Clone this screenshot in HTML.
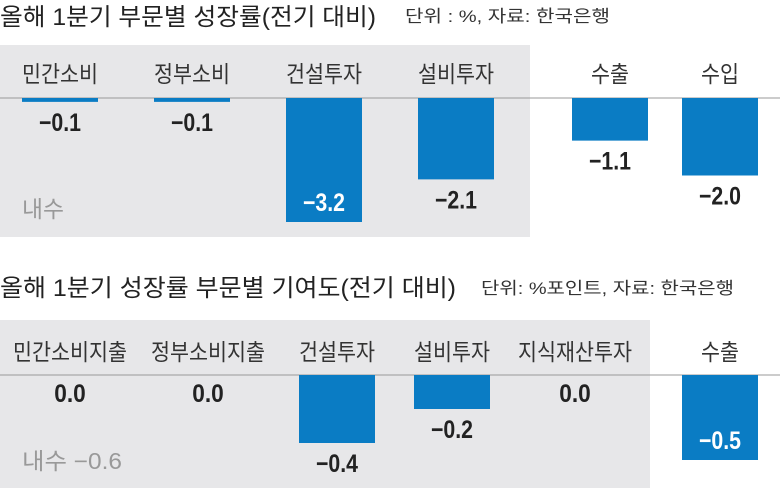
<!DOCTYPE html>
<html><head><meta charset="utf-8"><style>
body{margin:0;background:#fff;}
svg{display:block;font-family:"Liberation Sans","Noto Sans CJK KR",sans-serif;}
</style></head><body>
<svg id="s" width="780" height="488">
<rect x="0" y="45" width="530" height="192" fill="#e7e7e9"/>
<rect x="0" y="320" width="650" height="168" fill="#e7e7e9"/>
<text x="0" y="25" font-size="24" fill="#222" textLength="376" lengthAdjust="spacingAndGlyphs">올해 1분기 부문별 성장률(전기 대비)</text>
<text x="405" y="22" font-size="17" fill="#333" textLength="205" lengthAdjust="spacingAndGlyphs">단위 : %, 자료: 한국은행</text>
<text x="0" y="296" font-size="24" fill="#222" textLength="456" lengthAdjust="spacingAndGlyphs">올해 1분기 성장률 부문별 기여도(전기 대비)</text>
<text x="481" y="294" font-size="17" fill="#333" textLength="253" lengthAdjust="spacingAndGlyphs">단위: %포인트, 자료: 한국은행</text>
<line x1="0" x2="780" y1="98" y2="98" stroke="#999" stroke-width="1"/>
<line x1="0" x2="780" y1="375" y2="375" stroke="#999" stroke-width="1"/>
<text x="22" y="217" font-size="23" fill="#999" textLength="42" lengthAdjust="spacingAndGlyphs">내수</text>
<text x="22" y="469" font-size="23" fill="#999" textLength="100" lengthAdjust="spacingAndGlyphs">내수 −0.6</text>
</svg>
<script>
const topCats=['민간소비','정부소비','건설투자','설비투자','수출','수입'];
const topVals=[-0.1,-0.1,-3.2,-2.1,-1.1,-2.0];
const topLabels=['−0.1','−0.1','−3.2','−2.1','−1.1','−2.0'];
const botCats=['민간소비지출','정부소비지출','건설투자','설비투자','지식재산투자','수출'];
const botVals=[0.0,0.0,-0.4,-0.2,0.0,-0.5];
const botLabels=['0.0','0.0','−0.4','−0.2','0.0','−0.5'];
const NS='http://www.w3.org/2000/svg';
const svg=document.getElementById('s');
function mk(t,a){const e=document.createElementNS(NS,t);for(const k in a)e.setAttribute(k,a[k]);svg.appendChild(e);return e;}
function draw(cats,vals,labels,centers,base,scale,labelY,inside,pre){
  const y=v=>base-v*scale;
  cats.forEach((c,i)=>{
    const t=mk('text',{x:centers[i],y:labelY,'font-size':23,fill:'#333','text-anchor':'middle',textLength:19*c.length,lengthAdjust:'spacingAndGlyphs'});
    
    
    t.textContent=c;
    const v=vals[i];const h=y(v)-base;
    if(h>0.5){
      const r=mk('rect',{x:centers[i]-38,y:base,width:76,height:h,fill:'#0a7cc4'});
      
      
    }
    const isIn=inside[i];
    const vy=isIn?y(v)-11:y(v)+(h>0.5?29:27);
    const l=mk('text',{x:centers[i],y:vy,'font-size':25,'font-weight':'bold',fill:isIn?'#fff':'#222','text-anchor':'middle',textLength:10.5*labels[i].length,lengthAdjust:'spacingAndGlyphs'});
    
    
    l.textContent=labels[i];
  });
}
draw(topCats,topVals,topLabels,[60,192,324,456,610,720],98,38.75,82,[false,false,true,false,false,false],'top');
draw(botCats,botVals,botLabels,[70,208,337,452,575,720],375,170,360,[false,false,false,false,false,true],'bottom');
</script>
</body></html>
